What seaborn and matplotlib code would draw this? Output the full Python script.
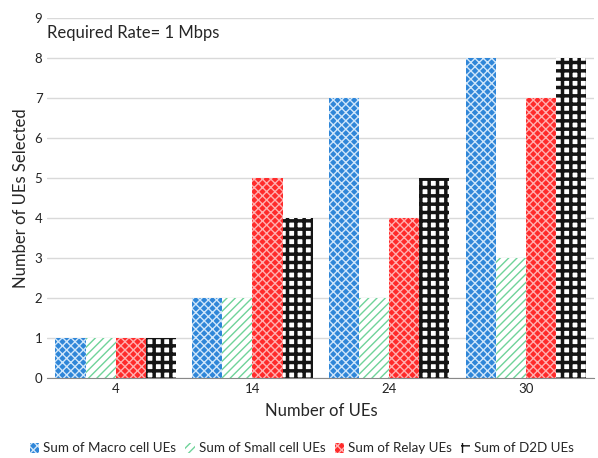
import pandas as pd
import matplotlib.pyplot as plt
import seaborn as sns
from matplotlib.patches import Patch

ues = ["4", "14", "24", "30"]
macro = [1, 2, 7, 8]
small = [1, 2, 2, 3]
relay = [1, 5, 4, 7]
d2d = [1, 4, 5, 8]
series = ["Sum of Macro cell UEs", "Sum of Small cell UEs", "Sum of Relay UEs", "Sum of D2D UEs"]

rows = []
for name, vals in zip(series, [macro, small, relay, d2d]):
    for u, v in zip(ues, vals):
        rows.append({"UEs": u, "series": name, "count": v})
df = pd.DataFrame(rows)

# face, hatch colour, hatch pattern, hatch width
styles = [("#2f86d8", "#cfe6fa", "xxxx", 1.0),
          ("white", "#6fd39a", "////", 1.0),
          ("#ff2b2b", "#ffb0b0", "xxxx", 1.0),
          ("#ffffff", "#151515", "++", 2.5)]


def hatch_lw(p, lw):
    if hasattr(p, "set_hatch_linewidth"):
        p.set_hatch_linewidth(lw)
    else:
        p._hatch_linewidth = lw


sns.set_style("white")
plt.rcParams['font.family'] = ['Lato', 'DejaVu Sans']

fig = plt.figure(figsize=(5.98, 4.58), dpi=100)
ax = fig.add_axes([0.079, 0.175, 0.915, 0.786])
sns.barplot(data=df, x="UEs", y="count", hue="series", hue_order=series,
            order=ues, width=0.88, ax=ax, legend=False)

for cont, (fc, hc, h, lw) in zip(ax.containers, styles):
    for bar in cont:
        bar.set_facecolor(fc)
        bar.set_edgecolor(hc)
        bar.set_hatch(h)
        bar.set_linewidth(0)
        hatch_lw(bar, lw)

ax.set_ylim(0, 9)
ax.set_yticks(range(10))
ax.grid(axis="y", color="#d9d9d9", linewidth=1)
ax.set_axisbelow(True)
for s in ["top", "right", "left"]:
    ax.spines[s].set_visible(False)
ax.spines["bottom"].set_color("#888888")
ax.tick_params(axis="both", length=0, labelsize=9.5, colors="#222222")
ax.set_xlabel("Number of UEs", fontsize=12, labelpad=6)
ax.set_ylabel("Number of UEs Selected", fontsize=12)
ax.text(0.0, 8.62, "Required Rate= 1 Mbps", fontsize=12, va="center",
        transform=ax.get_yaxis_transform(), ha="left")
ax.set_xlim(-0.5, 3.5)

handles = []
for fc, hc, h, lw in styles:
    p = Patch(facecolor=fc, edgecolor=hc, hatch=h, linewidth=0)
    hatch_lw(p, lw)
    handles.append(p)
fig.legend(handles, series, loc="center", ncol=4, frameon=False,
           bbox_to_anchor=(0.505, 9.5 / 458), fontsize=9.6, handlelength=0.7,
           handleheight=0.7, handletextpad=0.3, columnspacing=0.7)

fig.savefig("out.png", dpi=100)
